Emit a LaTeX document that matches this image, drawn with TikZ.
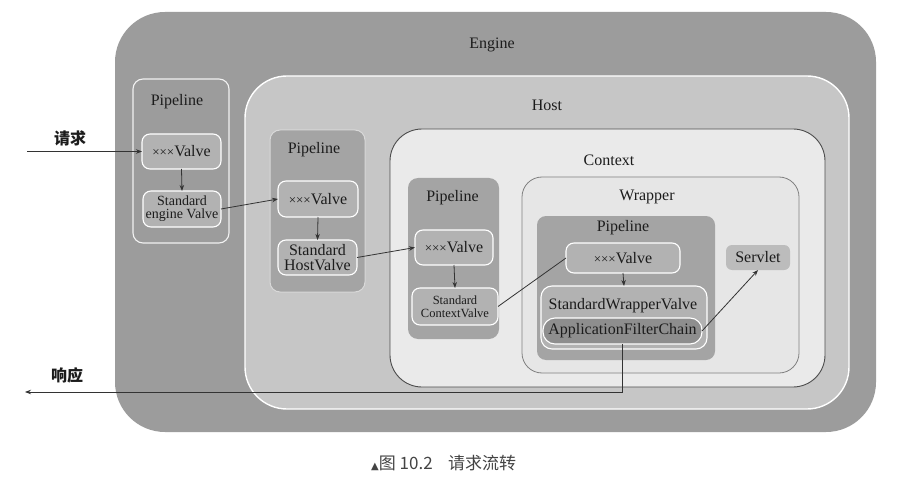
\documentclass[tikz,border=0pt]{standalone}
\usepackage{fontspec}
\setmainfont{Liberation Serif}
\newfontfamily\cjk{Noto Sans CJK SC}
\newfontfamily\dejavu{DejaVu Sans}
\usetikzlibrary{arrows.meta}
\definecolor{engfill}{HTML}{9C9C9C}
\definecolor{hostfill}{HTML}{C6C6C6}
\definecolor{ctxfill}{HTML}{EAEAEA}
\definecolor{wrapfill}{HTML}{E6E6E6}
\definecolor{pipefill}{HTML}{A4A4A4}
\definecolor{valvefill}{HTML}{B2B2B2}
\definecolor{afcfill}{HTML}{8E8E8E}
\definecolor{srvfill}{HTML}{BCBCBC}
\definecolor{inkc}{HTML}{1C1C1C}
\definecolor{linec}{HTML}{333333}
\definecolor{capc}{HTML}{444444}
\newcommand\tmul{{\fontsize{13}{13}\selectfont ×××}}
\begin{document}
\begin{tikzpicture}[x=1pt,y=-1pt,
  box/.style={rectangle,inner sep=0pt,outer sep=0pt,text=inkc},
  lbl/.style={inner sep=0pt,text=inkc,font=\fontsize{16}{16}\selectfont},
  valve/.style={box,fill=valvefill,draw=white,line width=1.1pt,rounded corners=8pt,
     align=center,font=\fontsize{16}{16}\selectfont},
  conn/.style={draw=linec,line width=0.8pt},
  arr/.style={conn,-{Stealth[length=6pt,width=4.5pt]}}]
\useasboundingbox (0,0) rectangle (907,481);
\fill[white] (0,0) rectangle (907,481);
% containers
\node[box,fill=engfill,rounded corners=50pt,minimum width=761pt,minimum height=420pt] (engine) at (495.5,222) {};
\node[box,fill=hostfill,draw=white,line width=1.4pt,rounded corners=42pt,minimum width=604pt,minimum height=333pt] (host) at (547,242.5) {};
\node[box,fill=ctxfill,draw=black!70,line width=0.9pt,rounded corners=32pt,minimum width=435pt,minimum height=258pt] (context) at (607.5,258) {};
\node[box,fill=wrapfill,draw=black!50,line width=0.8pt,rounded corners=20pt,minimum width=277pt,minimum height=196pt] (wrapper) at (660.5,275) {};
% pipelines
\node[box,fill=engfill,draw=white!95!black,line width=1.1pt,rounded corners=10pt,minimum width=96pt,minimum height=164pt] (epipe) at (181,161) {};
\node[box,fill=pipefill,draw=white!85!black,line width=1pt,rounded corners=10pt,minimum width=95pt,minimum height=162pt] (hpipe) at (317.5,211) {};
\node[box,fill=pipefill,rounded corners=10pt,minimum width=91pt,minimum height=161pt] (cpipe) at (453.5,258.5) {};
\node[box,fill=pipefill,rounded corners=9pt,minimum width=178pt,minimum height=144pt] (wpipe) at (626,288) {};
% labels
\node[lbl] (lengine) at (492,45) {Engine};
\node[lbl] (lhost) at (547,105) {Host};
\node[lbl] (lcontext) at (609,160) {Context};
\node[lbl] (lwrapper) at (647,197) {Wrapper};
\node[lbl] (lepipe) at (177,102) {Pipeline};
\node[lbl] (lhpipe) at (314,150) {Pipeline};
\node[lbl] (lcpipe) at (452.5,198) {Pipeline};
\node[lbl] (lwpipe) at (623,228) {Pipeline};
% valves
\node[valve,minimum width=79pt,minimum height=35pt] (exv) at (181.5,151.5) {\tmul Valve};
\node[valve,minimum width=78pt,minimum height=36pt,font=\fontsize{14}{13}\selectfont] (estd) at (182,209) {Standard\\engine Valve};
\node[valve,minimum width=80pt,minimum height=36pt] (hxv) at (318,199) {\tmul Valve};
\node[valve,minimum width=79pt,minimum height=35pt,font=\fontsize{16}{15}\selectfont] (hstd) at (317.5,257.5) {Standard\\HostValve};
\node[valve,minimum width=78pt,minimum height=35pt] (cxv) at (454,247.5) {\tmul Valve};
\node[valve,minimum width=86pt,minimum height=37pt,font=\fontsize{12.5}{13}\selectfont] (cstd) at (455,306.5) {Standard\\ContextValve};
\node[valve,minimum width=114pt,minimum height=30pt] (wxv) at (623,258) {\tmul Valve};
\node[box,fill=valvefill,draw=white,line width=1.1pt,rounded corners=11pt,minimum width=166pt,minimum height=63pt] (swv) at (624,317.5) {};
\node[lbl] (lswv) at (623,306) {StandardWrapperValve};
\node[box,fill=afcfill,draw=white,line width=1.1pt,rounded corners=12pt,minimum width=159pt,minimum height=26pt,font=\fontsize{16}{16}\selectfont] (afc) at (622.5,331) {ApplicationFilterChain};
\node[box,fill=srvfill,rounded corners=6pt,minimum width=64pt,minimum height=25pt,font=\fontsize{16}{16}\selectfont] (srv) at (758,257.5) {Servlet};
% side labels
\node[inner sep=0pt,font=\cjk\bfseries\fontsize{16}{16}\selectfont,text=inkc] (lreq) at (70,138) {请求};
\node[inner sep=0pt,font=\cjk\bfseries\fontsize{16}{16}\selectfont,text=inkc] (lresp) at (67,375) {响应};
\coordinate (reqstart) at (27,151.5);
\coordinate (respend) at (25,392);
% connectors
\draw[arr] (reqstart) -- (exv.west);
\draw[arr] (exv.south) -- (estd.north);
\draw[arr] (estd.east) -- (hxv.west);
\draw[arr] (hxv.south) -- (hstd.north);
\draw[arr] (hstd.east) -- (cxv.west);
\draw[arr] (cxv.south) -- (cstd.north);
\draw[conn] (cstd.east) -- (wxv.west);
\draw[arr] (wxv.south) -- (swv.north);
\draw[arr] (afc.east) -- (srv.south);
\draw[arr] (afc.south) |- (respend);
% caption
\node[anchor=west,inner sep=0pt,text=capc,font=\cjk\fontsize{17}{17}\selectfont] (caption) at (371,463) {{\dejavu\fontsize{10}{10}\selectfont ▲}图 10.2\hspace{0.9em}请求流转};
\end{tikzpicture}
\end{document}
